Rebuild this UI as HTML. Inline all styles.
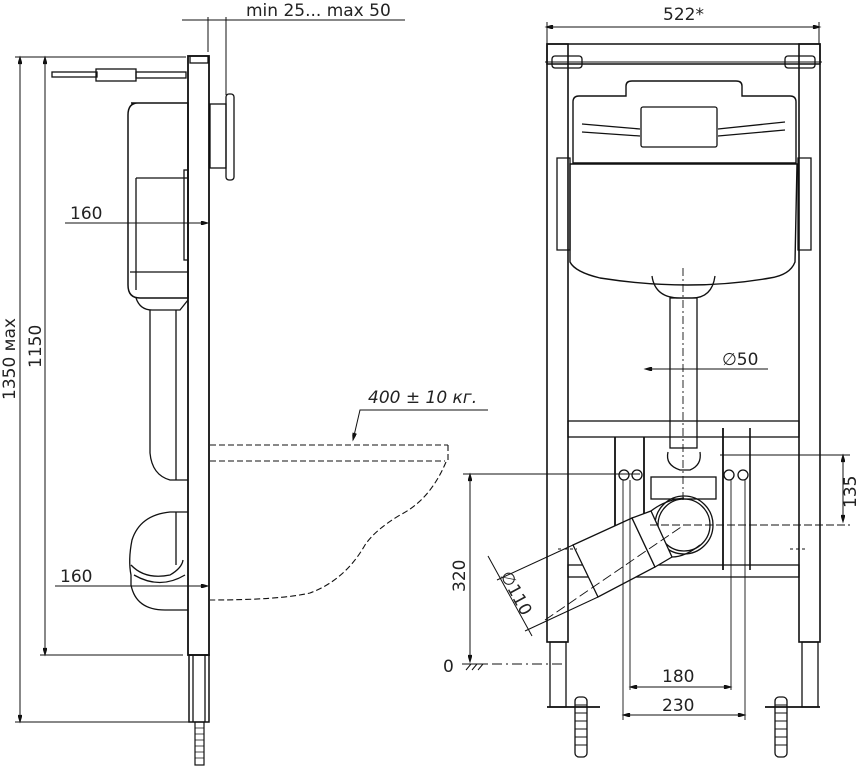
<!DOCTYPE html>
<html><head><style>body{margin:0;background:#fff}svg{display:block}text{font-family:"DejaVu Sans","Liberation Sans",sans-serif;fill:#222}</style></head>
<body>
<svg width="856" height="768" viewBox="0 0 856 768" xmlns="http://www.w3.org/2000/svg" fill="none" stroke="#111" stroke-width="1.3">
<defs><marker id="a" viewBox="0 0 10 6" refX="10" refY="3" markerWidth="10" markerHeight="4" orient="auto-start-reverse"><path d="M0,0L10,3L0,6z" fill="#111"/></marker></defs>
<!-- LEFT VIEW -->
<line x1="182" y1="20" x2="405" y2="20" stroke-width="1"/>
<text x="246" y="16" font-size="17" stroke="none">min 25... max 50</text>
<line x1="208" y1="17" x2="208" y2="52" stroke-width="1"/><line x1="226" y1="17" x2="226" y2="95" stroke-width="1"/>
<rect x="188" y="56" width="21" height="599" stroke-width="1.8"/>
<rect x="190" y="56" width="18" height="7"/>
<rect x="189" y="655" width="20" height="67" stroke-width="1.5"/><line x1="193" y1="655" x2="193" y2="722"/><line x1="205" y1="655" x2="205" y2="722"/>
<rect x="195" y="722" width="9" height="43" stroke-width="1.2"/>
<path d="M195 728H204M195 734H204M195 740H204M195 746H204M195 752H204M195 758H204" stroke-width="0.8"/>
<line x1="15" y1="57" x2="186" y2="57" stroke-width="1"/>
<line x1="20" y1="57" x2="20" y2="722" stroke-width="1" marker-start="url(#a)" marker-end="url(#a)"/>
<line x1="45" y1="57" x2="45" y2="655" stroke-width="1" marker-start="url(#a)" marker-end="url(#a)"/>
<line x1="15" y1="722" x2="189" y2="722" stroke-width="1"/><line x1="40" y1="655" x2="183" y2="655" stroke-width="1"/>
<text transform="translate(15,400) rotate(-90)" font-size="17" stroke="none">1350 мax</text>
<text transform="translate(41,368) rotate(-90)" font-size="17" stroke="none">1150</text>
<rect x="52" y="72" width="45" height="5"/><rect x="96" y="69" width="40" height="12"/><rect x="136" y="72" width="50" height="6"/>
<rect x="210" y="104" width="16" height="64"/><rect x="226" y="94" width="8" height="86" rx="3"/>
<path d="M131 103H188V298H140Q128 298 128 285V115Q128 103 138 103Z" stroke-width="1.5"/>
<line x1="136" y1="178" x2="188" y2="178"/><line x1="136" y1="178" x2="136" y2="290"/><line x1="130" y1="272" x2="188" y2="272"/>
<rect x="184" y="170" width="4" height="90"/>
<path d="M136 298Q140 310 152 310H180L188 300"/>
<path d="M150 310V453Q152 475 170 480H188"/><line x1="176" y1="310" x2="176" y2="480"/>
<path d="M188 512H170Q140 515 132 540Q128 560 131 575V585Q136 610 165 610H188"/>
<path d="M131 565Q145 580 170 575Q182 568 183 560"/><path d="M134 575Q160 590 185 575"/>
<line x1="176" y1="512" x2="176" y2="565"/>
<line x1="65" y1="223" x2="208" y2="223" stroke-width="1" marker-end="url(#a)"/><text x="70" y="219" font-size="17" stroke="none">160</text>
<line x1="55" y1="586" x2="208" y2="586" stroke-width="1" marker-end="url(#a)"/><text x="60" y="582" font-size="17" stroke="none">160</text>
<g stroke-dasharray="6,3" stroke-width="1.1">
<line x1="210" y1="445" x2="448" y2="445"/><line x1="210" y1="461" x2="445" y2="461"/><line x1="448" y1="445" x2="448" y2="461"/>
<path d="M446 462Q430 500 400 515Q375 530 365 545Q345 580 310 593Q280 600 210 600"/>
</g>
<text x="368" y="403" font-size="17" font-style="italic" stroke="none">400 ± 10 кг.</text>
<path d="M488 410H360L353 440" stroke-width="1" marker-end="url(#a)"/>
<!-- RIGHT VIEW -->
<line x1="546" y1="27" x2="820" y2="27" stroke-width="1" marker-start="url(#a)" marker-end="url(#a)"/>
<line x1="547" y1="22" x2="547" y2="44" stroke-width="1"/><line x1="819" y1="22" x2="819" y2="44" stroke-width="1"/>
<text x="663" y="20" font-size="17" stroke="none">522*</text>
<rect x="547" y="44" width="273" height="20" stroke-width="1.5"/>
<rect x="547" y="44" width="21" height="598" stroke-width="1.6"/><rect x="799" y="44" width="21" height="598" stroke-width="1.6"/>
<rect x="550" y="642" width="16" height="65"/><rect x="802" y="642" width="16" height="65"/>
<line x1="547" y1="707" x2="600" y2="707" stroke-width="1.8"/><line x1="765" y1="707" x2="820" y2="707" stroke-width="1.8"/>
<rect x="552" y="56" width="30" height="12" rx="3"/><rect x="785" y="56" width="30" height="12" rx="3"/>
<line x1="545" y1="62" x2="822" y2="62" stroke-width="1"/>
<path d="M626 96V86Q626 81 632 81H736Q742 81 742 86V96H790Q796 96 796 102V163H573V102Q573 96 579 96Z" stroke-width="1.4"/>
<rect x="641" y="107" width="76" height="40" rx="2"/>
<path d="M582 124L640 129M582 132L640 136M718 129L785 122M718 136L785 130"/>
<path d="M557 158H570V250H557Z"/><path d="M798 158H811V250H798Z"/>
<path d="M570 164H797L795 262Q790 275 770 278Q690 292 600 278Q575 272 570 262Z" stroke-width="1.4"/>
<path d="M652 276Q655 298 680 298H692Q712 298 715 276"/>
<rect x="670" y="298" width="27" height="150" stroke-width="1.3"/>
<line x1="683" y1="268" x2="683" y2="500" stroke-dasharray="8,3,2,3" stroke-width="0.9"/>
<line x1="645" y1="369" x2="768" y2="369" stroke-width="1" marker-start="url(#a)"/><text x="722" y="365" font-size="17" stroke="none">∅50</text>
<rect x="568" y="421" width="231" height="16"/><rect x="568" y="565" width="231" height="12"/>
<line x1="615" y1="437" x2="615" y2="565" stroke-width="1.8"/><line x1="644" y1="437" x2="644" y2="565" stroke-width="1.8"/><line x1="723" y1="428" x2="723" y2="570" stroke-width="1.8"/><line x1="750" y1="428" x2="750" y2="570" stroke-width="1.6"/>
<path d="M668 452Q665 465 680 470H690Q702 465 700 452"/><rect x="651" y="477" width="65" height="22"/>
<circle cx="684" cy="525" r="29"/><circle cx="684" cy="525" r="26"/>
<path d="M573 545L632 518L655 567L598 597Z" fill="#fff"/>
<path d="M632 518L651 511L672 557L655 567Z" fill="#fff"/>
<path d="M651 511Q665 500 684 498M672 557Q685 557 700 545"/>
<line x1="573" y1="545" x2="497" y2="580" stroke-width="1"/><line x1="598" y1="597" x2="525" y2="631" stroke-width="1"/>
<line x1="545" y1="620" x2="684" y2="525" stroke-dasharray="10,4" stroke-width="0.9"/>
<line x1="650" y1="525" x2="850" y2="525" stroke-dasharray="8,3" stroke-width="0.9"/>
<circle cx="624" cy="475" r="5"/><circle cx="637" cy="475" r="5"/><circle cx="729" cy="475" r="5"/><circle cx="743" cy="475" r="5"/>
<line x1="630" y1="480" x2="630" y2="690" stroke-width="0.9"/><line x1="623" y1="480" x2="623" y2="720" stroke-width="0.9"/>
<line x1="731" y1="480" x2="731" y2="690" stroke-width="0.9"/><line x1="745" y1="480" x2="745" y2="720" stroke-width="0.9"/>
<line x1="630" y1="687" x2="731" y2="687" stroke-width="1" marker-start="url(#a)" marker-end="url(#a)"/><text x="662" y="682" font-size="17" stroke="none">180</text>
<line x1="623" y1="715" x2="745" y2="715" stroke-width="1" marker-start="url(#a)" marker-end="url(#a)"/><text x="662" y="711" font-size="17" stroke="none">230</text>
<line x1="463" y1="474" x2="640" y2="474" stroke-width="1"/>
<line x1="470" y1="474" x2="470" y2="662" stroke-width="1" marker-start="url(#a)" marker-end="url(#a)"/>
<text transform="translate(465,592) rotate(-90)" font-size="17" stroke="none">320</text>
<text x="443" y="672" font-size="17" stroke="none">0</text>
<path d="M462 664H488M466 670L471 664M472 670L477 664M478 670L483 664" stroke-width="1"/>
<line x1="492" y1="664" x2="566" y2="664" stroke-dasharray="10,4,2,4" stroke-width="0.9"/>
<line x1="488" y1="556" x2="532" y2="636" stroke-width="1"/>
<text transform="translate(500,575) rotate(62)" font-size="17" stroke="none">∅110</text>
<line x1="720" y1="455" x2="850" y2="455" stroke-width="1"/>
<line x1="843" y1="455" x2="843" y2="522" stroke-width="1" marker-start="url(#a)" marker-end="url(#a)"/>
<text transform="translate(856,508) rotate(-90)" font-size="17" stroke="none">135</text>
<path d="M558 549H577M790 549H808" stroke-width="1" stroke-dasharray="3,3"/>
<rect x="575" y="697" width="12" height="60" rx="4"/><rect x="775" y="697" width="12" height="60" rx="4"/>
<path d="M575 705H587M575 713H587M575 721H587M575 729H587M575 737H587M575 745H587M775 705H787M775 713H787M775 721H787M775 729H787M775 737H787M775 745H787" stroke-width="1"/>
</svg>
</body></html>
